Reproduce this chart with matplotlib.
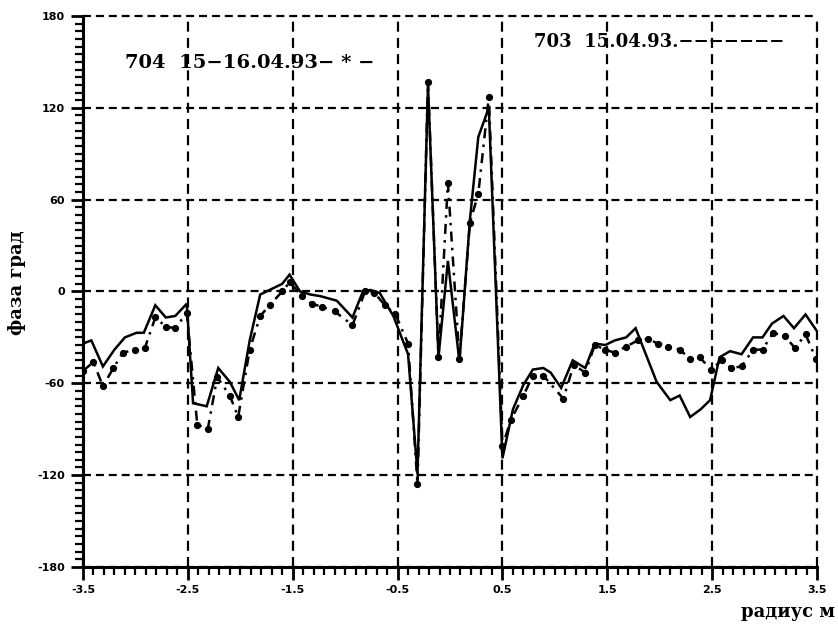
import matplotlib
matplotlib.use("Agg")
import matplotlib.pyplot as plt
from matplotlib.ticker import MultipleLocator, FixedLocator

# Series 703 (solid)
x703 = [-3.5, -3.42, -3.31, -3.2, -3.1, -2.99, -2.92, -2.81, -2.71, -2.62, -2.51,
        -2.45, -2.32, -2.21, -2.1, -2.01, -1.91, -1.81, -1.69, -1.6, -1.53, -1.43,
        -1.33, -1.24, -1.08, -0.93, -0.83, -0.76, -0.67, -0.54, -0.4, -0.31, -0.21,
        -0.11, -0.02, 0.09, 0.19, 0.27, 0.37, 0.5, 0.6, 0.7, 0.79, 0.89, 0.96, 1.06,
        1.17, 1.29, 1.38, 1.48, 1.57, 1.68, 1.77, 1.97, 2.1, 2.19, 2.29, 2.39, 2.48,
        2.57, 2.67, 2.78, 2.89, 2.98, 3.07, 3.18, 3.28, 3.39, 3.49]
y703 = [-34, -32, -49, -38, -30, -27, -27, -9, -17, -16, -8,
        -73, -75, -50, -59, -71, -32, -2, 2, 5, 11, 0,
        -2, -3, -6, -17, 0, 1, -1, -16, -41, -119, 135,
        -43, 20, -46, 47, 101, 120, -109, -77, -61, -51, -50, -53, -63,
        -45, -50, -34, -35, -32, -30, -24, -59, -71, -68, -82, -77, -71,
        -43, -39, -41, -30, -30, -21, -16, -24, -15, -25]

# Series 704 (dash-dot with dots)
x704 = [-3.5, -3.4, -3.31, -3.21, -3.12, -3.0, -2.91, -2.81, -2.71, -2.62, -2.51,
        -2.41, -2.31, -2.22, -2.1, -2.02, -1.91, -1.81, -1.72, -1.6, -1.53, -1.41,
        -1.32, -1.22, -1.1, -0.93, -0.81, -0.72, -0.62, -0.52, -0.4, -0.31, -0.21,
        -0.11, -0.02, 0.09, 0.19, 0.27, 0.37, 0.5, 0.58, 0.7, 0.79, 0.89, 1.08,
        1.18, 1.29, 1.38, 1.48, 1.57, 1.68, 1.79, 1.89, 1.98, 2.08, 2.19, 2.29,
        2.38, 2.49, 2.59, 2.68, 2.78, 2.89, 2.98, 3.08, 3.19, 3.29, 3.39, 3.49]
y704 = [-52, -46, -62, -50, -40, -38, -37, -17, -23, -24, -14,
        -87, -90, -56, -68, -82, -38, -16, -9, 0, 6, -3,
        -8, -10, -13, -22, 0, -1, -9, -15, -34, -126, 137,
        -43, 71, -44, 45, 64, 127, -101, -84, -68, -55, -55, -70,
        -48, -53, -35, -38, -40, -36, -32, -31, -34, -36, -38, -44,
        -43, -51, -45, -50, -49, -38, -38, -27, -29, -37, -28, -44]

xticks = [-3.5, -2.5, -1.5, -0.5, 0.5, 1.5, 2.5, 3.5]
xticklabels = ["-3.5", "-2.5", "-1.5", "-0.5", "0.5", "1.5", "2.5", "3.5"]
yticks = [-180, -120, -60, 0, 60, 120, 180]
yticklabels = ["-180", "-120", "-60", "0", "60", "120", "180"]

fig = plt.figure(figsize=(8.38, 6.29), dpi=100)
ax = fig.add_axes([0.099, 0.0986, 0.876, 0.876])

ax.plot(x703, y703, color="black", lw=1.8, solid_joinstyle="miter", zorder=3)
ax.plot(x704, y704, color="black", lw=1.8, linestyle=(0, (4, 2.5, 1, 2.5)),
        marker="o", markersize=4.2, zorder=3)

ax.set_xlim(-3.5, 3.5)
ax.set_ylim(-180, 180)
ax.xaxis.set_major_locator(FixedLocator(xticks))
ax.set_xticklabels(xticklabels)
ax.yaxis.set_major_locator(FixedLocator(yticks))
ax.set_yticklabels(yticklabels)
ax.xaxis.set_minor_locator(MultipleLocator(0.1))
ax.yaxis.set_minor_locator(MultipleLocator(5))

for lab in ax.get_xticklabels() + ax.get_yticklabels():
    lab.set_fontweight("bold")
    lab.set_fontsize(8)

ax.tick_params(axis="both", which="major", direction="out", length=9, width=2, color="black", pad=4)
ax.tick_params(axis="both", which="minor", direction="out", length=6, width=1.6, color="black")

ax.xaxis.grid(True, which="major", color="black", lw=1.6, linestyle=(0, (4.5, 2.8)), clip_on=False)
ax.yaxis.grid(True, which="major", color="black", lw=1.6, linestyle=(0, (3.6, 2.2)), clip_on=False)
ax.set_axisbelow(True)

for s in ["top", "right"]:
    ax.spines[s].set_visible(False)
for s in ["left", "bottom"]:
    ax.spines[s].set_linewidth(2.2)

ax.text(-3.1, 149, "704  15\u221216.04.93\u2212 * \u2212", fontsize=14, fontweight="bold",
        family="DejaVu Serif", va="center", ha="left")
ax.text(0.8, 163, "703  15.04.93." + "\u2212" * 7, fontsize=13, fontweight="bold",
        family="DejaVu Serif", va="center", ha="left")

fig.text(0.02, 0.55, "фаза град", rotation=90, fontsize=13, fontweight="bold",
         family="DejaVu Serif", va="center", ha="center")
fig.text(0.997, 0.027, "радиус м", fontsize=13, fontweight="bold",
         family="DejaVu Serif", va="center", ha="right")

fig.savefig("out.png", dpi=100)
